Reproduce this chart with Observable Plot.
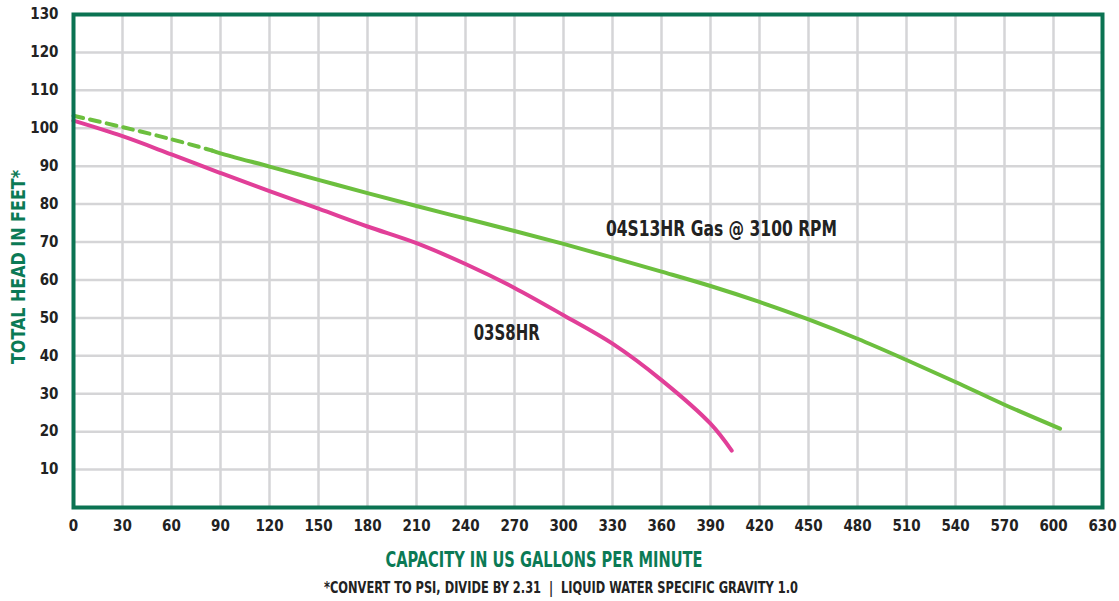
<!DOCTYPE html>
<html>
<head>
<meta charset="utf-8">
<script src="https://cdn.jsdelivr.net/npm/d3@7"></script>
<script src="https://cdn.jsdelivr.net/npm/@observablehq/plot@0.6"></script>
<style>
  html, body { margin: 0; padding: 0; background: #fff; }
  #chart svg { display: block; }
</style>
</head>
<body>
<div id="chart"></div>
<script>
// Tick values
const xTicks = d3.range(0, 631, 30);
const yTicks = d3.range(10, 131, 10);

// 03S8HR curve (GPM, feet)
const s8Gpm  = [0, 30, 60, 90, 120, 150, 180, 210, 240, 270, 300, 330, 360, 390, 403];
const s8Head = [102, 97.9, 93.1, 88.2, 83.4, 78.8, 74.1, 69.7, 64.2, 57.9, 50.7, 43.2, 33.6, 22.1, 15];

// 04S13HR Gas @ 3100 RPM — dashed (extrapolated) part
const s13DashGpm  = [0, 30, 60, 85];
const s13DashHead = [103.3, 100.3, 97.1, 94.1];
// 04S13HR solid part
const s13Gpm  = [85, 90, 120, 150, 180, 210, 240, 270, 300, 330, 360, 390, 420, 450, 480, 510, 540, 570, 604];
const s13Head = [94.1, 93.4, 89.9, 86.4, 82.9, 79.5, 76.2, 72.9, 69.5, 65.9, 62.2, 58.4, 54.2, 49.6, 44.5, 38.9, 33.1, 27.1, 20.8];

// Curve labels
const labelNames = ["04S13HR Gas @ 3100 RPM", "03S8HR"];
const labelGpm   = [326, 245];
const labelHead  = [73.4, 45.9];

const xTitle = "CAPACITY IN US GALLONS PER MINUTE";
const yTitle = "TOTAL HEAD IN FEET*";
const footnote = "*CONVERT TO PSI, DIVIDE BY 2.31  |  LIQUID WATER SPECIFIC GRAVITY 1.0";

const zip = (xs, ys) => xs.map((x, i) => ({x, y: ys[i]}));
const s8 = zip(s8Gpm, s8Head);
const s13d = zip(s13DashGpm, s13DashHead);
const s13 = zip(s13Gpm, s13Head);
const labels = labelNames.map((t, i) => ({t, x: labelGpm[i], y: labelHead[i]}));

const FONT = "'Liberation Sans Narrow', 'DejaVu Sans Condensed', 'Roboto Condensed', sans-serif";
const GREEN_DARK = "#0b7352";
const TITLE_GREEN = "#0b7a55";
const LINE_GREEN = "#6cbf3e";
const PINK = "#e13f98";

const chart = Plot.plot({
  width: 1119,
  height: 601,
  marginLeft: 73,
  marginRight: 17,
  marginTop: 14,
  marginBottom: 94,
  style: {fontFamily: FONT, fontWeight: "bold", fontSize: "15px", color: "#222", background: "#fff"},
  x: {domain: [0, 630], ticks: xTicks},
  y: {domain: [0, 130], ticks: yTicks},
  marks: [
    Plot.gridX(xTicks, {stroke: "#d5d5d7", strokeOpacity: 1, strokeWidth: 2.5}),
    Plot.gridY(yTicks, {stroke: "#d5d5d7", strokeOpacity: 1, strokeWidth: 2.5}),
    Plot.axisX(xTicks, {tickSize: 0, tickPadding: 13, label: null, fill: "#222"}),
    Plot.axisY(yTicks, {tickSize: 0, tickPadding: 15, label: null, fill: "#222"}),
    Plot.line(s13d, {x: "x", y: "y", stroke: LINE_GREEN, strokeWidth: 4, strokeDasharray: "10,7", curve: "catmull-rom"}),
    Plot.line(s13, {x: "x", y: "y", stroke: LINE_GREEN, strokeWidth: 4, curve: "catmull-rom"}),
    Plot.line(s8, {x: "x", y: "y", stroke: PINK, strokeWidth: 4, curve: "catmull-rom"}),
    Plot.text(labels, {x: "x", y: "y", text: "t", textAnchor: "start", fontSize: 21, fill: "#222", fontWeight: "bold"}),
    Plot.frame({stroke: GREEN_DARK, strokeWidth: 4}),
    Plot.text([xTitle], {frameAnchor: "bottom", dx: -44, dy: 59, fontSize: 22, fill: TITLE_GREEN, fontWeight: "bold"}),
    Plot.text([footnote], {frameAnchor: "bottom", dx: -27, dy: 85, fontSize: 15, fill: "#222", fontWeight: "bold"}),
    Plot.text([yTitle], {frameAnchor: "left", textAnchor: "middle", dx: -55, dy: 6, rotate: -90, fontSize: 19, fill: TITLE_GREEN, fontWeight: "bold"})
  ]
});

// Condense the long text runs to the narrow width of the original typeface
const fitWidths = new Map([
  [labelNames[0], 231],
  [labelNames[1], 66],
  [xTitle, 317],
  [footnote, 474],
  [yTitle, 194]
]);
chart.querySelectorAll("text").forEach(el => {
  const w = fitWidths.get(el.textContent);
  if (w) {
    el.setAttribute("textLength", w);
    el.setAttribute("lengthAdjust", "spacingAndGlyphs");
  }
});
document.getElementById("chart").appendChild(chart);
</script>
</body>
</html>
